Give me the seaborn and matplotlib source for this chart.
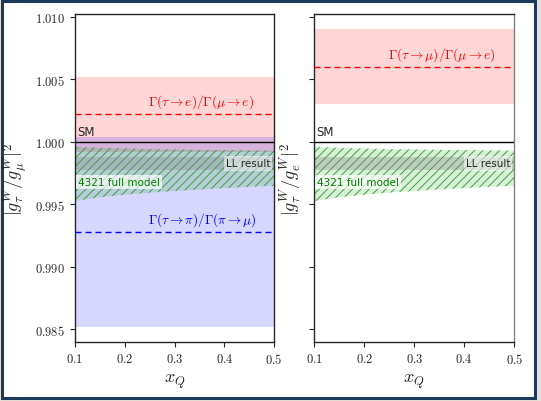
import numpy as np
import matplotlib
matplotlib.use("Agg")
import matplotlib.pyplot as plt
from matplotlib.patches import Rectangle
from matplotlib.ticker import FuncFormatter
import seaborn as sns

# x_Q grid and the 4321 full model band
x_q = [0.1, 0.15, 0.2, 0.25, 0.3, 0.35, 0.4, 0.45, 0.5]
model_low = [0.99525, 0.99555, 0.99575, 0.99592, 0.99605, 0.99617, 0.99628, 0.99638, 0.99647]
model_high = [0.99958, 0.99950, 0.99945, 0.99940, 0.99937, 0.99934, 0.99932, 0.99930, 0.99928]

# LL result band
ll_low, ll_high = 0.99770, 0.99880

# measurements: central value and 1 sigma
tau_e_central, tau_e_err = 1.0022, 0.0030      # Gamma(tau->e)/Gamma(mu->e)
tau_pi_central, tau_pi_err = 0.9928, 0.0076    # Gamma(tau->pi)/Gamma(pi->mu)
tau_mu_central, tau_mu_err = 1.0060, 0.0030    # Gamma(tau->mu)/Gamma(mu->e)

sns.set_style("ticks")
plt.rcParams['font.family'] = ['DejaVu Sans']
plt.rcParams['mathtext.fontset'] = 'cm'
plt.rcParams['hatch.linewidth'] = 0.7

fig = plt.figure(figsize=(5.41, 4.02), dpi=100)
fig.patch.set_facecolor('#e8e0d5')
fig.patches.append(Rectangle((1.5 / 541, 3.5 / 402), 533 / 541, 397 / 402,
                             transform=fig.transFigure, facecolor='white',
                             edgecolor='#1d3a5c', linewidth=2.2, zorder=-10))

ax1 = fig.add_axes([0.1386, 0.146, 0.368, 0.816])
ax2 = fig.add_axes([0.581, 0.146, 0.3695, 0.816], sharey=ax1)

xs = np.array([x_q[0], x_q[-1]])


def common(ax):
    # 4321 model band
    ax.fill_between(x_q, model_low, model_high, facecolor=(0.0, 0.6, 0.0, 0.15),
                    edgecolor='#3aa53a', hatch='////', linewidth=0, zorder=2)
    # LL result
    ax.fill_between(xs, ll_low, ll_high, color='grey', alpha=0.3, linewidth=0, zorder=2)
    ax.axhline(1.0, color='black', lw=1.0, zorder=3)
    ax.text(0.104, 1.0003, 'SM', fontsize=8.5, va='bottom', ha='left', zorder=4)
    ax.text(0.492, (ll_low + ll_high) / 2, 'LL result', fontsize=7.5, ha='right', va='center',
            bbox=dict(facecolor='white', edgecolor='none', alpha=0.5, pad=1.5), zorder=4)
    ax.text(0.106, 0.99678, '4321 full model', fontsize=7.5, color='green', ha='left',
            va='center', bbox=dict(facecolor='white', edgecolor='none', alpha=0.7, pad=1.5),
            zorder=4)
    ax.set_xlim(0.1, 0.5)
    ax.set_xticks([0.1, 0.2, 0.3, 0.4, 0.5])
    ax.xaxis.set_major_formatter(FuncFormatter(lambda v, p: f'${v:.1f}$'))
    ax.set_xlabel(r'$x_Q$', fontsize=13)
    ax.tick_params(labelsize=9)


def measurement(ax, central, err, color, label):
    ax.fill_between(xs, central - err, central + err, color=color, alpha=0.16,
                    linewidth=0, zorder=1)
    sns.lineplot(x=xs, y=[central, central], ax=ax, color=color,
                 linestyle=(0, (4.3, 2.9)), lw=1.0, zorder=3)
    ax.text(0.247, central + 0.0003, label, color=color, fontsize=9.5, ha='left',
            va='bottom', zorder=4)


measurement(ax1, tau_e_central, tau_e_err, 'red', r'$\Gamma(\tau\to e)/\Gamma(\mu\to e)$')
measurement(ax1, tau_pi_central, tau_pi_err, 'blue', r'$\Gamma(\tau\to \pi)/\Gamma(\pi\to \mu)$')
measurement(ax2, tau_mu_central, tau_mu_err, 'red', r'$\Gamma(\tau\to \mu)/\Gamma(\mu\to e)$')
common(ax1)
common(ax2)

ax1.set_ylim(0.98395, 1.01018)
ax1.set_yticks([0.985, 0.990, 0.995, 1.000, 1.005, 1.010])
ax1.yaxis.set_major_formatter(FuncFormatter(lambda v, p: f'${v:.3f}$'))
ax1.set_ylabel(r'$|g_\tau^W/g_\mu^W|^2$', fontsize=13)
ax2.set_ylabel(r'$|g_\tau^W/g_e^W|^2$', fontsize=13)
ax2.tick_params(axis='y', labelleft=False)
ax2.spines['right'].set_color('0.5')

for ax in (ax1, ax2):
    ax.set_facecolor('none')
    for s in ax.spines.values():
        s.set_linewidth(1.0)
        s.set_visible(True)

fig.savefig('out.png', dpi=100, facecolor=fig.get_facecolor())
